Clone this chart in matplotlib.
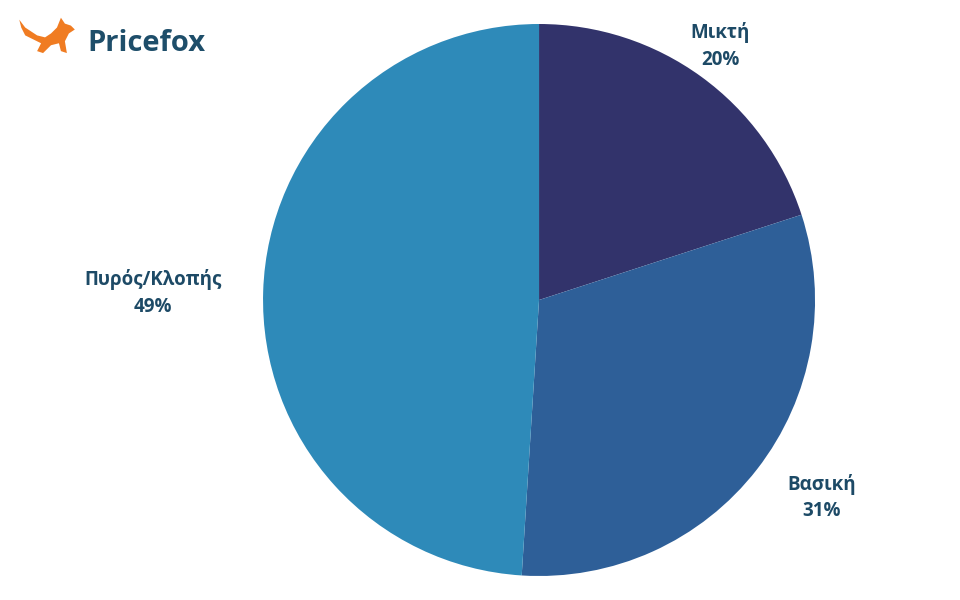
import numpy as np
import matplotlib
matplotlib.use("Agg")
import matplotlib.pyplot as plt
from matplotlib.patches import Polygon

categories = ["Μικτή", "Βασική", "Πυρός/Κλοπής"]
values = [20, 31, 49]
colors = ["#32336b", "#2e5f98", "#2e8ab9"]
label_dist = [1.13, 1.25, 1.40]
label_shift = [0.5, 2.9, 0.8]

plt.rcParams['font.family'] = ['Open Sans', 'DejaVu Sans']

fig = plt.figure(figsize=(9.6, 6), dpi=100)
fig.patch.set_facecolor("white")
ax = fig.add_axes([0.274, 0.04, 0.575, 0.92])
wedges, _ = ax.pie(values, colors=colors, startangle=90, counterclock=False,
                   wedgeprops=dict(linewidth=0))
ax.set_aspect('equal')
ax.set_xlim(-1, 1)
ax.set_ylim(-1, 1)
ax.axis('off')

for w, cat, v, d, s in zip(wedges, categories, values, label_dist, label_shift):
    ang = np.deg2rad((w.theta1 + w.theta2) / 2 + s)
    x, y = d * np.cos(ang), d * np.sin(ang)
    ax.text(x, y, f"{cat}\n{v}%", ha='center', va='center', fontsize=13.5,
            fontweight='bold', color='#1d4a66', linespacing=1.45, clip_on=False)

# logo
fig.text(0.091, 0.927, "Pricefox", fontsize=21, fontweight='bold', color='#1e4e6a',
         ha='left', va='center')
lax = fig.add_axes([0.018, 0.905, 0.062, 0.072])
lax.axis('off')
lax.set_xlim(0, 60)
lax.set_ylim(0, 44)
fox = [(2, 38), (8, 30), (14, 26), (20, 22), (28, 20), (34, 24), (40, 30),
       (44, 40), (48, 34), (54, 32), (58, 28), (52, 24), (48, 16), (50, 4),
       (44, 6), (42, 14), (34, 12), (26, 4), (20, 6), (24, 14), (16, 18),
       (8, 22), (4, 30)]
lax.add_patch(Polygon(fox, closed=True, facecolor='#f07c22', edgecolor='none'))

fig.savefig("out.png", dpi=100, facecolor="white")
